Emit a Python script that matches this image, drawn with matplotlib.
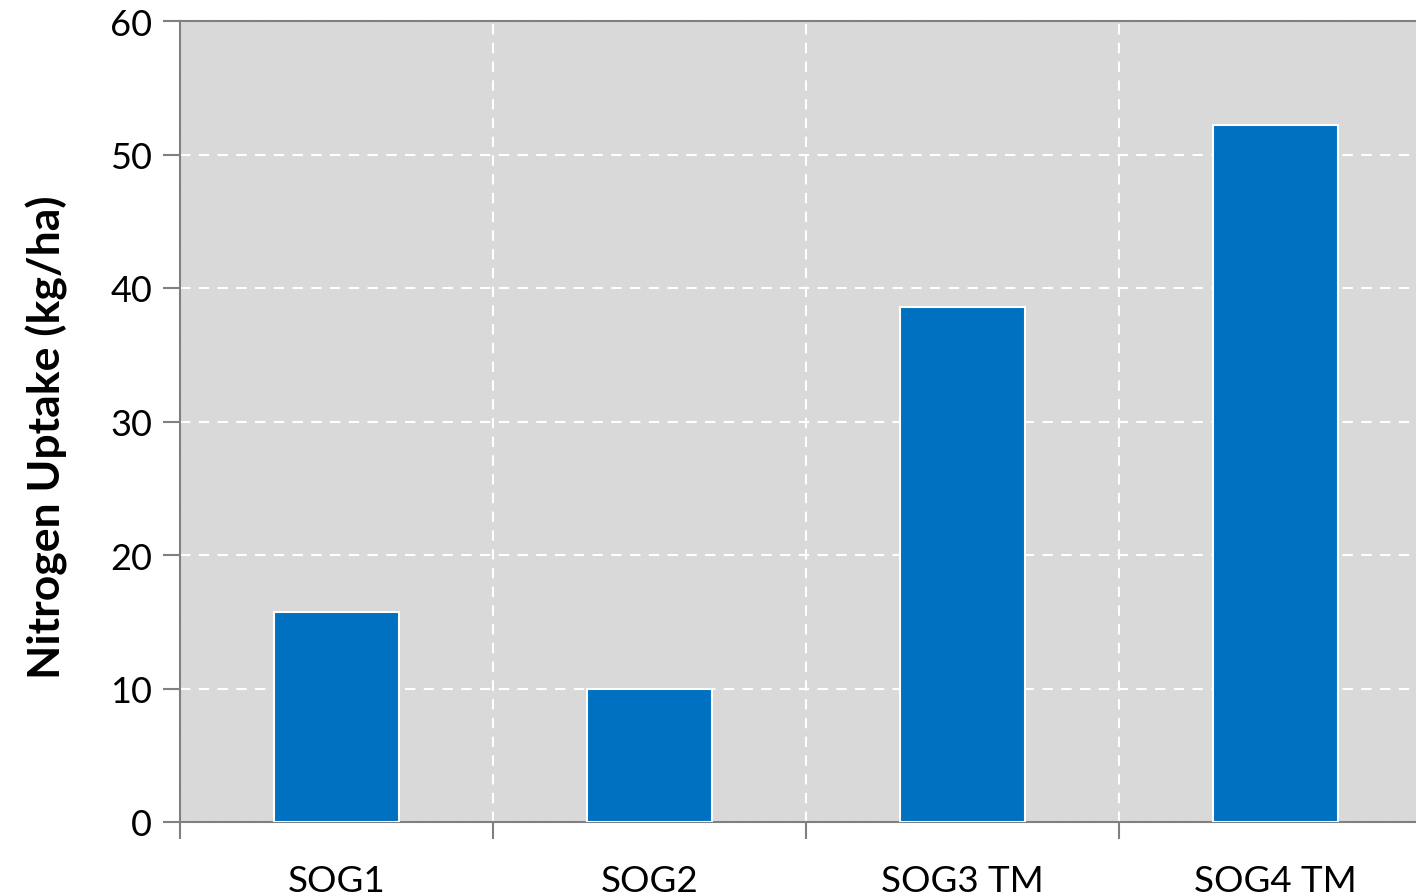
import matplotlib
matplotlib.use("Agg")
import matplotlib.pyplot as plt
import numpy as np

categories = ["SOG1", "SOG2", "SOG3 TM", "SOG4 TM"]
uptake = [15.7, 10.0, 38.6, 52.2]

plt.rcParams['font.family'] = ['Lato', 'DejaVu Sans']

fig = plt.figure(figsize=(14.16, 8.95), dpi=100)
ax = fig.add_axes([180/1416, 1 - 823/895, 1 - 180/1416, (823 - 22)/895])
ax.set_facecolor('#D9D9D9')

x = np.arange(len(categories))
ax.bar(x, uptake, width=0.4, color='#0070C0', edgecolor='white', linewidth=1.5, zorder=3)

ax.set_ylim(0, 60)
ax.set_yticks(range(0, 61, 10))
ax.set_xlim(-0.5, 3.45)

# category labels centred, tick marks at boundaries
ax.set_xticks(x)
ax.set_xticklabels(categories)
ax.tick_params(axis='x', which='major', length=0, pad=30, labelsize=26.5)
ax.set_xticks(np.arange(-0.5, 3.4, 1), minor=True)
ax.tick_params(axis='x', which='minor', length=12, width=1.5, color='#808080')
ax.tick_params(axis='y', length=12, width=1.5, color='#808080', labelsize=26, pad=8)

ax.grid(True, axis='y', color='white', linestyle=(0, (5, 4)), linewidth=1.5, zorder=1)
ax.grid(True, axis='x', which='minor', color='white', linestyle=(0, (5, 4)), linewidth=1.5, zorder=1)

for side in ['left', 'bottom', 'top']:
    ax.spines[side].set_color('#808080')
    ax.spines[side].set_linewidth(1.5)
ax.spines['right'].set_visible(False)

ax.set_ylabel("Nitrogen Uptake (kg/ha)", fontsize=32, fontweight='bold', labelpad=30, y=0.482)

fig.savefig("out.png", dpi=100)
